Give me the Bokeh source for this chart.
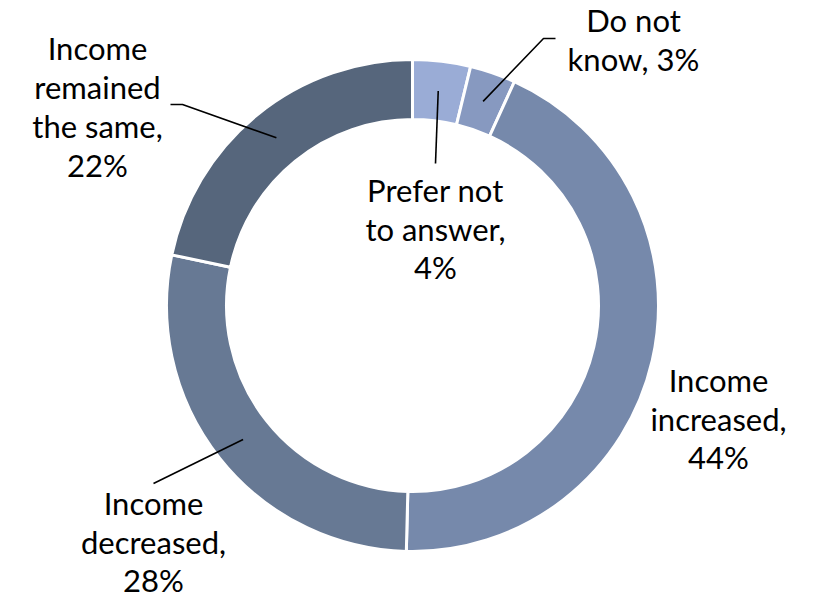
import math
from bokeh.plotting import figure
from bokeh.models import Range1d, ColumnDataSource
from bokeh.core.properties import value
from bokeh.embed import file_html
from bokeh.resources import INLINE

# ---- data (clockwise from 12 o'clock) ----
categories = ["Prefer not\nto answer", "Do not\nknow", "Income\nincreased", "Income\ndecreased", "Income\nremained\nthe same"]
values = [3.8, 3.0, 43.6, 27.9, 21.7]
pct_labels = ["4%", "3%", "44%", "28%", "22%"]
colors = ["#9AACD6", "#8799C0", "#7689AB", "#677994", "#56667C"]

W, H = 820, 600
# picture coords -> data coords (1 data unit = 1 px)
def px(x, y):
    return x, H - y

cx, cy = px(412, 305)
r_in, r_out = 186, 246

p = figure(width=W, height=H, output_backend="svg", toolbar_location=None,
           x_range=Range1d(0, W), y_range=Range1d(0, H), min_border=0)
p.axis.visible = False
p.grid.visible = False
p.outline_line_color = None
p.background_fill_color = "white"
p.border_fill_color = "white"

total = sum(values)
starts, ends, mids = [], [], []
cum = 0.0
for v in values:
    a0 = math.pi / 2 - cum / total * 2 * math.pi
    cum += v
    a1 = math.pi / 2 - cum / total * 2 * math.pi
    starts.append(a0)
    ends.append(a1)
    mids.append((a0 + a1) / 2)

src = ColumnDataSource(dict(start=starts, end=ends, color=colors))
p.annular_wedge(x=cx, y=cy, inner_radius=r_in, outer_radius=r_out,
                start_angle="start", end_angle="end", direction="clock",
                fill_color="color", line_color="white", line_width=3, source=src)

# label layout (picture pixel positions of text block centres) and leader paths
label_pos = [(435, 228), (633, 39), (718, 418), (153, 541), (97, 105.5)]
line_hs = [38.5, 38.5, 38.5, 38.5, 39]
leader_path = [[(435, 163)], [(543, 38), (555, 38)], None, [(153, 483)], [(182, 104), (170, 104)]]

r_mid = (r_in + r_out) / 2
for i, cat in enumerate(categories):
    path = leader_path[i]
    if path:
        sx = cx + r_mid * math.cos(mids[i])
        sy = cy + r_mid * math.sin(mids[i])
        xs = [sx] + [px(*pt)[0] for pt in path]
        ys = [sy] + [px(*pt)[1] for pt in path]
        p.line(xs, ys, line_color="black", line_width=1.6)

for i, cat in enumerate(categories):
    lines = cat.split("\n")
    lines[-1] = lines[-1] + ","
    if i == 1:
        lines = ["Do not", "know, " + pct_labels[i]]
    else:
        lines = lines + [pct_labels[i]]
    n = len(lines)
    lh = line_hs[i]
    lx, ly = px(*label_pos[i])
    ys = [ly + (n - 1) / 2 * lh - k * lh for k in range(n)]
    p.text(x=[lx] * n, y=ys, text=lines, text_font=value("Lato"),
           text_font_size="31px", text_color="black",
           text_align="center", text_baseline="middle")

open("out.html", "w").write(file_html(p, INLINE))
